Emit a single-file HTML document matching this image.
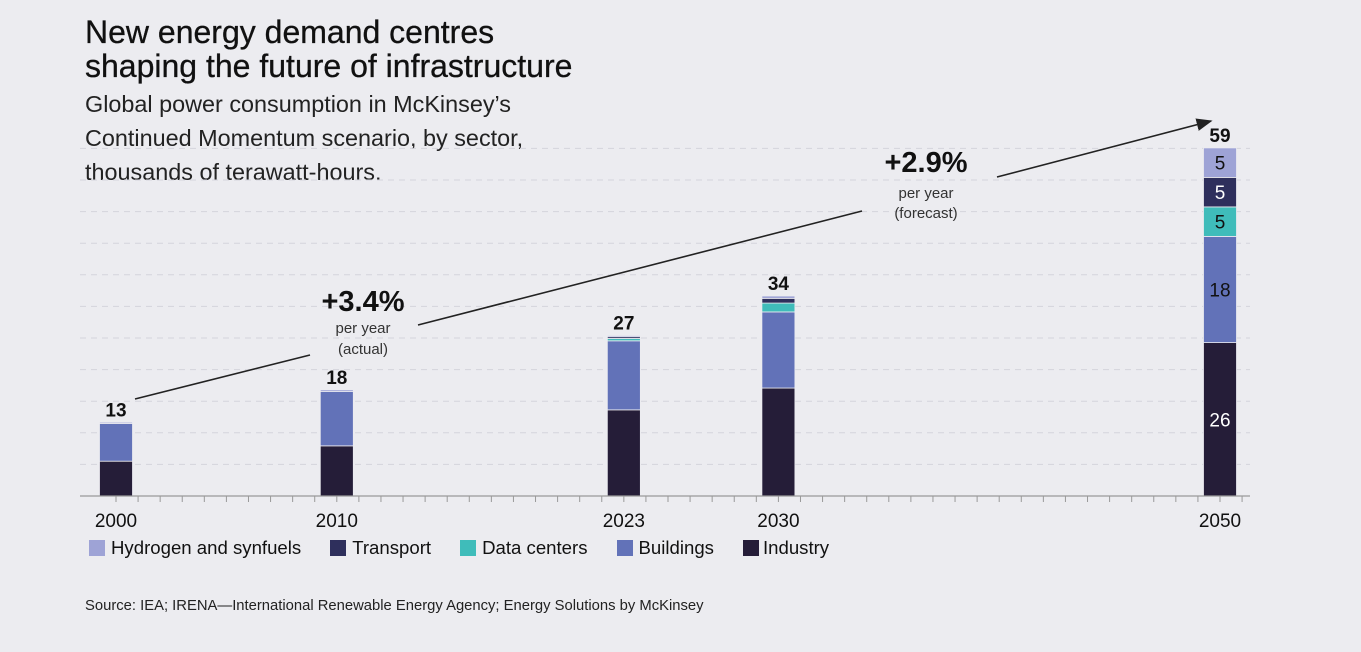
<!DOCTYPE html>
<html><head><meta charset="utf-8"><style>
html,body{margin:0;padding:0;background:#ececf0;}
body{width:1361px;height:652px;overflow:hidden;position:relative;font-family:"Liberation Sans",sans-serif;color:#111;}
.t{position:absolute;left:85px;margin:0;white-space:nowrap;}
</style></head><body>
<div class="t" style="top:15px;font-size:32px;line-height:34px;font-weight:500;letter-spacing:0px;-webkit-text-stroke:0.3px #111">New energy demand centres<br>shaping the future of infrastructure</div>
<div class="t" style="top:87px;font-size:23.4px;line-height:34px;color:#222">Global power consumption in McKinsey’s<br>Continued Momentum scenario, by sector,<br>thousands of terawatt-hours.</div>
<svg id="chart" width="1361" height="652" style="position:absolute;left:0;top:0" xmlns="http://www.w3.org/2000/svg">
<defs><marker id="ah" markerWidth="10" markerHeight="8" refX="9" refY="4" orient="auto"><path d="M0,0 L10,4 L0,8 z" fill="#222"/></marker></defs>
<g id="grid"></g><g id="bars"></g><g id="axis"></g>
<g stroke="#222" stroke-width="1.6" fill="none">
<line x1="135" y1="399" x2="310" y2="355"/>
<line x1="418" y1="325" x2="862" y2="211"/>
<line x1="997" y1="177" x2="1211" y2="121" marker-end="url(#ah)"/>
</g>
<g font-family="Liberation Sans, sans-serif" text-anchor="middle" fill="#111">
<text x="363" y="311" font-size="29" font-weight="bold">+3.4%</text>
<text x="363" y="333" font-size="15" fill="#333">per year</text>
<text x="363" y="354" font-size="15" fill="#333">(actual)</text>
<text x="926" y="172" font-size="29" font-weight="bold">+2.9%</text>
<text x="926" y="198" font-size="15" fill="#333">per year</text>
<text x="926" y="218" font-size="15" fill="#333">(forecast)</text>
</g>
</svg>
<div style="position:absolute;left:89px;top:537px;font-size:18.6px;display:flex;gap:0;white-space:nowrap;color:#111">
<span style="display:flex;align-items:center;margin-right:29px"><i style="width:16px;height:16px;background:#9ea3d6;margin-right:6px"></i>Hydrogen and synfuels</span>
<span style="display:flex;align-items:center;margin-right:29px"><i style="width:16px;height:16px;background:#2e2f5c;margin-right:6px"></i>Transport</span>
<span style="display:flex;align-items:center;margin-right:29px"><i style="width:16px;height:16px;background:#3fbcba;margin-right:6px"></i>Data centers</span>
<span style="display:flex;align-items:center;margin-right:29px"><i style="width:16px;height:16px;background:#6272b8;margin-right:6px"></i>Buildings</span>
<span style="display:flex;align-items:center"><i style="width:16px;height:16px;background:#251d38;margin-right:4px"></i>Industry</span>
</div>
<div class="t" style="top:598px;font-size:14.8px;color:#222">Source: IEA; IRENA—International Renewable Energy Agency; Energy Solutions by McKinsey</div>
<script>
const years=[2000,2010,2023,2030,2050];
const industry=[5.9,8.5,14.6,18.3,26];
const buildings=[6.4,9.2,11.7,12.9,18];
const dataCenters=[0,0,0.4,1.5,5];
const transport=[0,0,0.3,0.8,5];
const hydrogen=[0.2,0.3,0.2,0.4,5];
const totals=["13","18","27","34","59"];
const segLabels=[null,null,null,null,["26","18","5","5","5"]];
const NS="http://www.w3.org/2000/svg";
const base=496,pxPerUnit=5.9,bw=33;
const x=y=>116+(y-2000)*22.08;
const yv=v=>base-v*pxPerUnit;
function mk(t,a,p){const e=document.createElementNS(NS,t);for(const k in a)e.setAttribute(k,a[k]);p.appendChild(e);return e;}
const grid=document.getElementById('grid');
for(let k=1;k<=11;k++){const l=mk('line',{x1:80,x2:1250,y1:base-31.6*k,y2:base-31.6*k,stroke:'#d4d4dc','stroke-dasharray':'6 5','stroke-width':1},grid);

}
const axis=document.getElementById('axis');
const ax=mk('line',{x1:80,x2:1250,y1:base,y2:base,stroke:'#999','stroke-width':1.2},axis);


for(let yr=2000;yr<=2051;yr++){mk('line',{x1:x(yr),x2:x(yr),y1:base,y2:base+6,stroke:'#999'},axis);}
years.forEach(yr=>{const t=mk('text',{x:x(yr),y:527,'text-anchor':'middle','font-size':19,fill:'#111','font-family':'Liberation Sans, sans-serif'},axis);t.textContent=yr;

});
const series=[[industry,'#251d38'],[buildings,'#6272b8'],[dataCenters,'#3fbcba'],[transport,'#2e2f5c'],[hydrogen,'#9ea3d6']];
const bars=document.getElementById('bars');
years.forEach((yr,i)=>{let cum=0;
series.forEach(([arr,c],s)=>{const v=arr[i];if(!v)return;
const r=mk('rect',{x:x(yr)-bw/2,y:yv(cum+v),width:bw,height:v*pxPerUnit,fill:c,stroke:'#ececf0','stroke-width':0.8},bars);


if(segLabels[i]){const t=mk('text',{x:x(yr),y:yv(cum+v/2)+7,'text-anchor':'middle','font-size':19,fill:(s==0||s==3)?'#fff':'#111','font-family':'Liberation Sans, sans-serif'},bars);t.textContent=segLabels[i][s];

}
cum+=v;});
const t=mk('text',{x:x(yr),y:yv(cum)-6,'text-anchor':'middle','font-size':19,'font-weight':'bold',fill:'#111','font-family':'Liberation Sans, sans-serif'},bars);t.textContent=totals[i];

});
</script>
</body></html>
